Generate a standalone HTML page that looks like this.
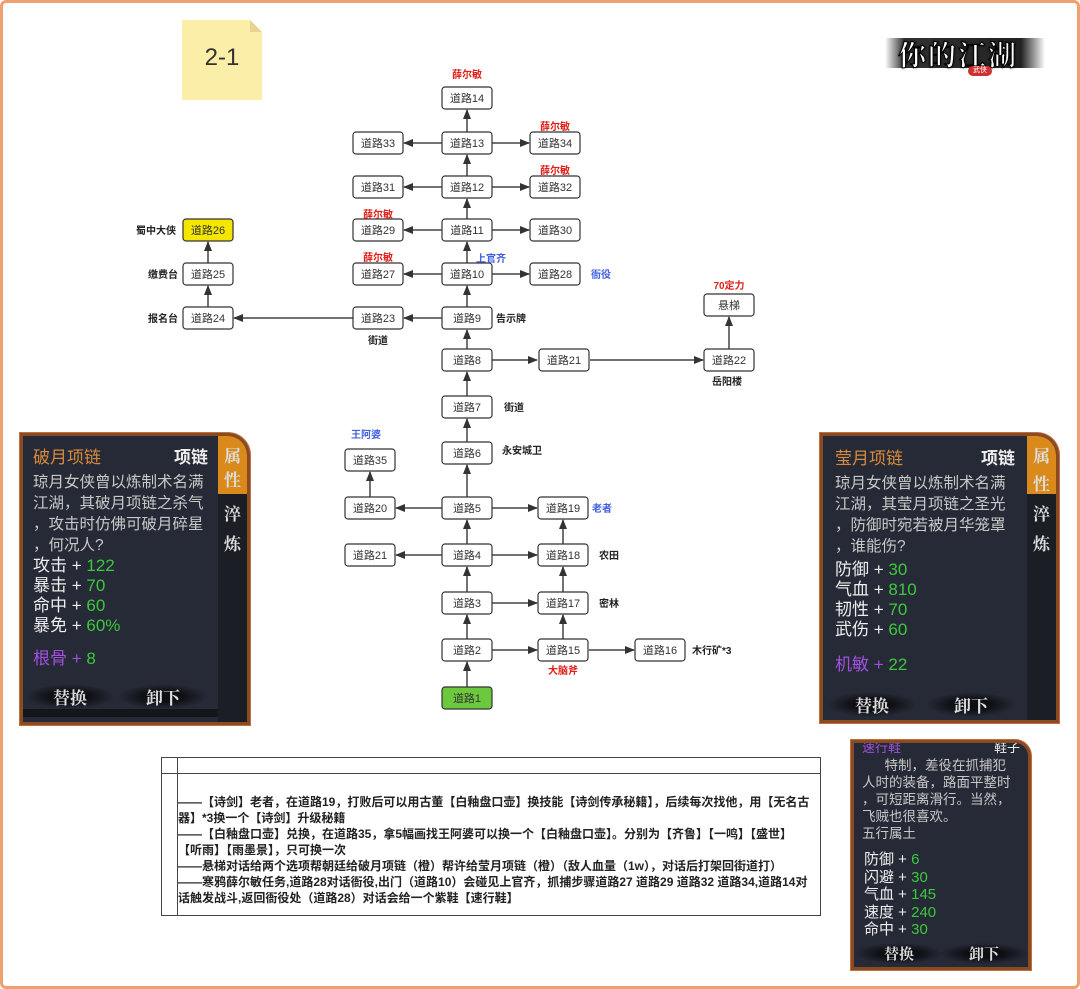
<!DOCTYPE html>
<html><head><meta charset="utf-8">
<style>
body{margin:0;width:1080px;height:989px;background:#fff;position:relative;overflow:hidden;font-family:"Liberation Sans","Noto Sans CJK SC",sans-serif}
.frame{position:absolute;left:0;top:0;width:1074px;height:983px;border:3px solid #f0a070;border-radius:6px}
.ab{position:absolute}
.panel{position:absolute;background:#262a36;border:3px solid #8a4a22;box-shadow:0 0 0 1px #c07040;border-top-right-radius:22px;overflow:hidden;color:#c8c8c8}
.panel .t{position:absolute;font-size:17px;white-space:nowrap}
.tab{position:absolute;background:#1c1e26;}
.tab .o{position:absolute;left:0;top:0;width:100%;background:#d98a1a}
.tab span{position:absolute;left:0;width:100%;text-align:center;color:#ddd;font-size:17px;font-weight:bold;font-family:"Noto Serif CJK SC",serif}
.btn{position:absolute;color:#ddd;font-weight:bold;font-size:17px;font-family:"Noto Serif CJK SC",serif;background:radial-gradient(ellipse at center,#0e0f14 30%,rgba(20,20,25,0) 70%);text-align:center;width:90px}
.g{color:#3cc83c}.p{color:#a050e0}.w{color:#eee}
</style></head><body>
<div class="frame"></div>

<div class="ab" style="left:182px;top:20px;width:80px;height:80px;background:#fbeea8;clip-path:polygon(0 0,68px 0,80px 12px,80px 80px,0 80px)"></div>
<div class="ab" style="left:250px;top:20px;width:12px;height:12px;background:#e6d490;clip-path:polygon(0 0,0 100%,100% 100%)"></div>
<div class="ab" style="left:182px;top:44px;width:80px;text-align:center;font-size:24px;color:#333">2-1</div>

<div class="ab" style="left:885px;top:38px;width:160px;height:30px;background:linear-gradient(90deg,rgba(60,60,60,0),#333 12%,#222 85%,rgba(60,60,60,0))"></div>
<div class="ab" style="left:898px;top:34px;font-size:28px;font-weight:bold;color:#fff;letter-spacing:2px;-webkit-text-stroke:1px #000;font-family:'Noto Serif CJK SC',serif;text-shadow:0 0 3px #000">你的江湖</div>
<div class="ab" style="left:968px;top:66px;width:24px;height:10px;background:#d03030;border-radius:5px;font-size:7px;color:#fff;text-align:center;line-height:10px">武侠</div>

<svg class="ab" style="left:0;top:0" width="1080" height="989" font-family="Liberation Sans,Noto Sans CJK SC,sans-serif">
<defs><marker id="a" markerWidth="10" markerHeight="10" refX="9" refY="5" orient="auto" markerUnits="userSpaceOnUse"><path d="M0,1 L10,5 L0,9z" fill="#333"/></marker></defs>
<g stroke="#444" stroke-width="1.5" fill="none" marker-end="url(#a)">
<line x1="467" y1="687" x2="467" y2="662"/>
<line x1="467" y1="639" x2="467" y2="615"/>
<line x1="467" y1="592" x2="467" y2="567"/>
<line x1="467" y1="544" x2="467" y2="520"/>
<line x1="467" y1="497" x2="467" y2="465"/>
<line x1="467" y1="442" x2="467" y2="419"/>
<line x1="467" y1="396" x2="467" y2="372"/>
<line x1="467" y1="349" x2="467" y2="330"/>
<line x1="467" y1="307" x2="467" y2="286"/>
<line x1="467" y1="263" x2="467" y2="242"/>
<line x1="467" y1="219" x2="467" y2="199"/>
<line x1="467" y1="176" x2="467" y2="155"/>
<line x1="467" y1="132" x2="467" y2="110"/>
<line x1="442" y1="143" x2="404" y2="143"/><line x1="492" y1="143" x2="529" y2="143"/>
<line x1="442" y1="187" x2="404" y2="187"/><line x1="492" y1="187" x2="529" y2="187"/>
<line x1="442" y1="230" x2="404" y2="230"/><line x1="492" y1="230" x2="529" y2="230"/>
<line x1="442" y1="274" x2="404" y2="274"/><line x1="492" y1="274" x2="529" y2="274"/>
<line x1="442" y1="318" x2="404" y2="318"/>
<line x1="353" y1="318" x2="234" y2="318"/>
<line x1="208" y1="307" x2="208" y2="286"/>
<line x1="208" y1="263" x2="208" y2="242"/>
<line x1="492" y1="360" x2="537" y2="360"/>
<line x1="590" y1="360" x2="703" y2="360"/>
<line x1="729" y1="349" x2="729" y2="317"/>
<line x1="442" y1="508" x2="396" y2="508"/><line x1="492" y1="508" x2="537" y2="508"/>
<line x1="442" y1="555" x2="396" y2="555"/><line x1="492" y1="555" x2="537" y2="555"/>
<line x1="492" y1="603" x2="537" y2="603"/>
<line x1="492" y1="650" x2="537" y2="650"/>
<line x1="589" y1="650" x2="634" y2="650"/>
<line x1="370" y1="497" x2="370" y2="472"/>
<line x1="563" y1="639" x2="563" y2="615"/>
<line x1="563" y1="592" x2="563" y2="567"/>
<line x1="563" y1="544" x2="563" y2="520"/>
</g>
<g font-size="11" text-anchor="middle" fill="#333">
<g stroke="#333" stroke-width="1.2">
<rect x="442" y="87" width="50" height="22" rx="3" fill="#fff"/>
<rect x="442" y="132" width="50" height="22" rx="3" fill="#fff"/><rect x="353" y="132" width="50" height="22" rx="3" fill="#fff"/><rect x="530" y="132" width="50" height="22" rx="3" fill="#fff"/>
<rect x="442" y="176" width="50" height="22" rx="3" fill="#fff"/><rect x="353" y="176" width="50" height="22" rx="3" fill="#fff"/><rect x="530" y="176" width="50" height="22" rx="3" fill="#fff"/>
<rect x="442" y="219" width="50" height="22" rx="3" fill="#fff"/><rect x="353" y="219" width="50" height="22" rx="3" fill="#fff"/><rect x="530" y="219" width="50" height="22" rx="3" fill="#fff"/>
<rect x="442" y="263" width="50" height="22" rx="3" fill="#fff"/><rect x="353" y="263" width="50" height="22" rx="3" fill="#fff"/><rect x="530" y="263" width="50" height="22" rx="3" fill="#fff"/>
<rect x="442" y="307" width="50" height="22" rx="3" fill="#fff"/><rect x="353" y="307" width="50" height="22" rx="3" fill="#fff"/><rect x="183" y="307" width="50" height="22" rx="3" fill="#fff"/>
<rect x="183" y="263" width="50" height="22" rx="3" fill="#fff"/><rect x="183" y="219" width="50" height="22" rx="3" fill="#f5e600"/>
<rect x="442" y="349" width="50" height="22" rx="3" fill="#fff"/><rect x="539" y="349" width="50" height="22" rx="3" fill="#fff"/><rect x="704" y="349" width="50" height="22" rx="3" fill="#fff"/><rect x="704" y="294" width="50" height="22" rx="3" fill="#fff"/>
<rect x="442" y="396" width="50" height="22" rx="3" fill="#fff"/>
<rect x="442" y="442" width="50" height="22" rx="3" fill="#fff"/><rect x="345" y="449" width="50" height="22" rx="3" fill="#fff"/>
<rect x="442" y="497" width="50" height="22" rx="3" fill="#fff"/><rect x="345" y="497" width="50" height="22" rx="3" fill="#fff"/><rect x="538" y="497" width="50" height="22" rx="3" fill="#fff"/>
<rect x="442" y="544" width="50" height="22" rx="3" fill="#fff"/><rect x="345" y="544" width="50" height="22" rx="3" fill="#fff"/><rect x="538" y="544" width="50" height="22" rx="3" fill="#fff"/>
<rect x="442" y="592" width="50" height="22" rx="3" fill="#fff"/><rect x="538" y="592" width="50" height="22" rx="3" fill="#fff"/>
<rect x="442" y="639" width="50" height="22" rx="3" fill="#fff"/><rect x="538" y="639" width="50" height="22" rx="3" fill="#fff"/><rect x="635" y="639" width="50" height="22" rx="3" fill="#fff"/>
<rect x="442" y="687" width="50" height="22" rx="3" fill="#6cc83c"/>
</g>
<text x="467" y="102">道路14</text>
<text x="467" y="147">道路13</text><text x="378" y="147">道路33</text><text x="555" y="147">道路34</text>
<text x="467" y="191">道路12</text><text x="378" y="191">道路31</text><text x="555" y="191">道路32</text>
<text x="467" y="234">道路11</text><text x="378" y="234">道路29</text><text x="555" y="234">道路30</text>
<text x="467" y="278">道路10</text><text x="378" y="278">道路27</text><text x="555" y="278">道路28</text>
<text x="467" y="322">道路9</text><text x="378" y="322">道路23</text><text x="208" y="322">道路24</text>
<text x="208" y="278">道路25</text><text x="208" y="234">道路26</text>
<text x="467" y="364">道路8</text><text x="564" y="364">道路21</text><text x="729" y="364">道路22</text><text x="729" y="309">悬梯</text>
<text x="467" y="411">道路7</text>
<text x="467" y="457">道路6</text><text x="370" y="464">道路35</text>
<text x="467" y="512">道路5</text><text x="370" y="512">道路20</text><text x="563" y="512">道路19</text>
<text x="467" y="559">道路4</text><text x="370" y="559">道路21</text><text x="563" y="559">道路18</text>
<text x="467" y="607">道路3</text><text x="563" y="607">道路17</text>
<text x="467" y="654">道路2</text><text x="563" y="654">道路15</text><text x="660" y="654">道路16</text>
<text x="467" y="702">道路1</text>
</g>
<g font-size="10" font-weight="bold">
<g fill="#e0201a" text-anchor="middle">
<text x="467" y="78">薛尔敏</text><text x="555" y="130">薛尔敏</text><text x="555" y="174">薛尔敏</text>
<text x="378" y="218">薛尔敏</text><text x="378" y="261">薛尔敏</text><text x="729" y="289">70定力</text>
<text x="563" y="674">大脑斧</text>
</g>
<g fill="#4060e0" text-anchor="middle">
<text x="491" y="262">上官齐</text><text x="366" y="438">王阿婆</text>
</g>
<g fill="#4060e0"><text x="591" y="278">衙役</text><text x="592" y="512">老者</text></g>
<g fill="#222">
<text x="136" y="234">蜀中大侠</text><text x="148" y="278">缴费台</text><text x="148" y="322">报名台</text>
<text x="496" y="322">告示牌</text><text x="368" y="344">街道</text><text x="712" y="385">岳阳楼</text>
<text x="504" y="411">街道</text><text x="502" y="454">永安城卫</text>
<text x="599" y="559">农田</text><text x="599" y="607">密林</text><text x="692" y="654">木行矿*3</text>
</g>
</g>
</svg>

<div class="panel" style="left:20px;top:433px;width:224px;height:286px">
 <div class="tab" style="left:195px;top:0;width:29px;height:286px"><div class="o" style="height:58px"></div>
 <span style="top:6px">属</span><span style="top:30px">性</span><span style="top:64px">淬</span><span style="top:94px">炼</span></div>
 <div class="t" style="left:10px;top:7px;color:#d88a3c">破月项链</div>
 <div class="t w" style="left:151px;top:7px;font-weight:bold">项链</div>
 <div class="t" style="left:10px;top:36px;line-height:21px;font-size:15.5px">琼月女侠曾以炼制术名满<br>江湖，其破月项链之杀气<br>，攻击时仿佛可破月碎星<br>，何况人?</div>
 <div class="t w" style="left:10px;top:120px;line-height:20px;font-size:17px">攻击 + <span class="g">122</span><br>暴击 + <span class="g">70</span><br>命中 + <span class="g">60</span><br>暴免 + <span class="g">60%</span></div>
 <div class="t p" style="left:10px;top:208px">根骨 + <span class="g">8</span></div>
 <div class="btn" style="left:2px;top:248px">替换</div><div class="btn" style="left:95px;top:248px">卸下</div>
 <div class="ab" style="left:0;top:273px;width:195px;height:8px;background:#15161c"></div>
</div>

<div class="panel" style="left:820px;top:433px;width:233px;height:284px">
 <div class="tab" style="left:204px;top:0;width:29px;height:284px"><div class="o" style="height:58px"></div>
 <span style="top:6px">属</span><span style="top:34px">性</span><span style="top:64px">淬</span><span style="top:94px">炼</span></div>
 <div class="t" style="left:12px;top:8px;color:#d88a3c">莹月项链</div>
 <div class="t w" style="left:158px;top:8px;font-weight:bold">项链</div>
 <div class="t" style="left:12px;top:37px;line-height:21px;font-size:15.5px">琼月女侠曾以炼制术名满<br>江湖，其莹月项链之圣光<br>，防御时宛若被月华笼罩<br>，谁能伤?</div>
 <div class="t w" style="left:12px;top:124px;line-height:20px;font-size:17px">防御 + <span class="g">30</span><br>气血 + <span class="g">810</span><br>韧性 + <span class="g">70</span><br>武伤 + <span class="g">60</span></div>
 <div class="t p" style="left:12px;top:214px">机敏 + <span class="g">22</span></div>
 <div class="btn" style="left:4px;top:256px">替换</div><div class="btn" style="left:103px;top:256px">卸下</div>
</div>

<div class="panel" style="left:851px;top:740px;width:174px;height:224px;border-top-right-radius:16px">
 <div class="t p" style="left:8px;top:-6px;font-size:13px">速行鞋</div>
 <div class="t w" style="left:140px;top:-6px;font-size:13px">鞋子</div>
 <div class="t" style="left:8px;top:14px;line-height:17px;font-size:13.5px">&nbsp;&nbsp;&nbsp;&nbsp;&nbsp;&nbsp;特制，差役在抓捕犯<br>人时的装备，路面平整时<br>，可短距离滑行。当然，<br>飞贼也很喜欢。<br>五行属土</div>
 <div class="t w" style="left:10px;top:108px;line-height:17.5px;font-size:15px">防御 + <span class="g">6</span><br>闪避 + <span class="g">30</span><br>气血 + <span class="g">145</span><br>速度 + <span class="g">240</span><br>命中 + <span class="g">30</span></div>
 <div class="btn" style="left:0;top:200px;font-size:15px">替换</div><div class="btn" style="left:85px;top:200px;font-size:15px">卸下</div>
</div>

<div class="ab" style="left:161px;top:757px;width:658px;height:157px;border:1.5px solid #444"></div>
<div class="ab" style="left:177px;top:757px;width:1px;height:159px;background:#444"></div>
<div class="ab" style="left:161px;top:773px;width:660px;height:1px;background:#444"></div>
<div class="ab" style="left:178px;top:794px;width:645px;font-size:12px;line-height:16px;color:#222;font-weight:bold;white-space:nowrap">
——【诗剑】老者，在道路19，打败后可以用古董【白釉盘口壶】换技能【诗剑传承秘籍】，后续每次找他，用【无名古<br>器】*3换一个【诗剑】升级秘籍<br>
——【白釉盘口壶】兑换，在道路35，拿5幅画找王阿婆可以换一个【白釉盘口壶】。分别为【齐鲁】【一鸣】【盛世】<br>【听雨】【雨墨景】，只可换一次<br>
——悬梯对话给两个选项帮朝廷给破月项链（橙）帮许给莹月项链（橙）（敌人血量（1w），对话后打架回街道打）<br>
——寒鸦薛尔敏任务,道路28对话衙役,出门（道路10）会碰见上官齐，抓捕步骤道路27 道路29 道路32 道路34,道路14对<br>话触发战斗,返回衙役处（道路28）对话会给一个紫鞋【速行鞋】
</div>
</body></html>
